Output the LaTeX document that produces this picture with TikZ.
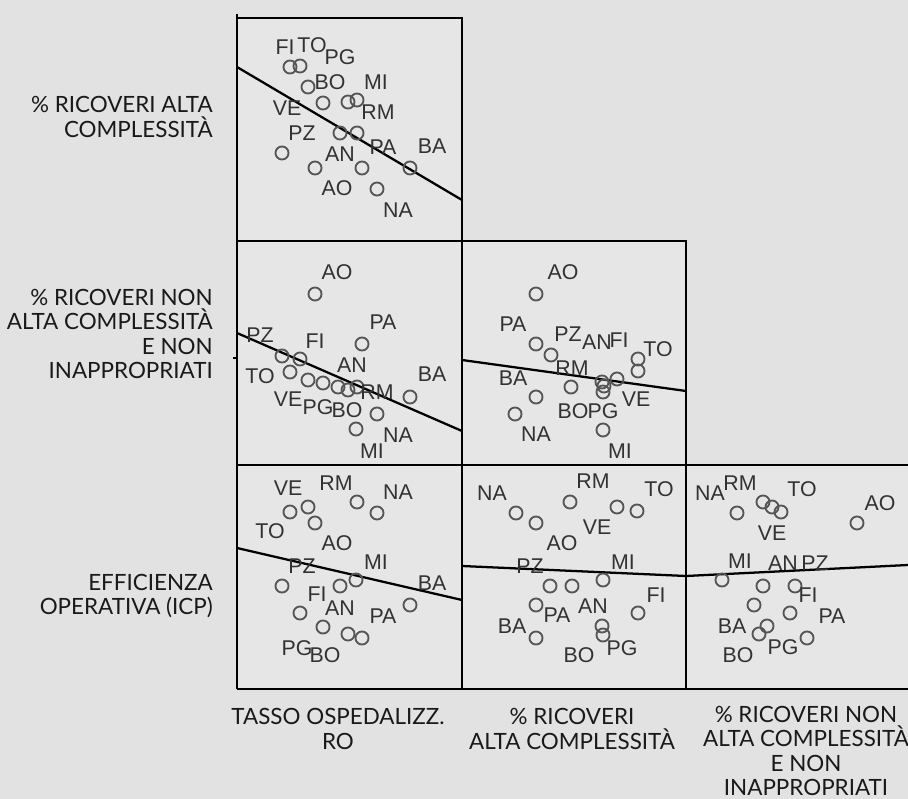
\documentclass[tikz,border=0pt]{standalone}
\usepackage{fontspec}
\setmainfont{Liberation Sans}
\newfontfamily\axisfont{Lato}
\definecolor{bgcol}{RGB}{226,226,226}
\definecolor{panelcol}{RGB}{230,230,230}
\definecolor{markcol}{RGB}{85,85,85}
\definecolor{labcol}{RGB}{50,50,50}
\definecolor{axcol}{RGB}{25,25,25}
\begin{document}
\begin{tikzpicture}[x=0.75pt,y=-0.75pt,
  framel/.style={line width=2.2pt,black},
  regl/.style={line width=1.7pt,black},
  mk/.style={circle,draw=markcol,line width=1.4pt,inner sep=0pt,minimum size=9.8pt},
  lab/.style={text=labcol,inner sep=0pt,font=\fontsize{16}{16}\selectfont},
  axlab/.style={text=axcol,inner sep=0pt,align=#1,font=\axisfont\fontsize{16.8}{18.4}\selectfont},
]
% canvas
\fill[bgcol] (0,0) rectangle (908,799);
\useasboundingbox (0,0) rectangle (908,799);
% panel backgrounds
\fill[panelcol] (237,18) rectangle (462,241);
\fill[panelcol] (237,241) rectangle (686,465);
\fill[panelcol] (237,465) rectangle (908,689);

% ---------- panel: row 1, col 1 ----------
\coordinate (r11s) at (237,67);
\coordinate (r11e) at (462,200);
\draw[regl] (r11s) -- (r11e);
\foreach \n/\x/\y in {a/290/67,b/300/66,c/308/87,d/323/103,e/348/102,f/357/100,g/340/133,h/357/133,i/282/153,j/315/168,k/362/168,l/410/168,m/377/189}
  \node[mk] (p11\n) at (\x,\y) {};
\foreach \t/\x/\y in {FI/285/47,TO/312/45,PG/340/57,BO/330/82,MI/376/82,VE/287/108,RM/378/112,PZ/302/133,AN/340/154,PA/383/147,BA/432/146,AO/337/188,NA/398/210}
  \node[lab] (l11\t) at (\x,\y) {\t};

% ---------- panel: row 2, col 1 ----------
\coordinate (r21s) at (237,333);
\coordinate (r21e) at (462,431);
\draw[regl] (r21s) -- (r21e);
\foreach \n/\x/\y in {a/315/294,b/362/344,c/282/356,d/300/359,e/290/372,f/308/380,g/323/383,h/338/387,i/348/390,j/357/387,k/410/397,l/377/414,m/356/429}
  \node[mk] (p21\n) at (\x,\y) {};
\foreach \t/\x/\y in {AO/337/272,PA/383/322,PZ/260/335,FI/315/341,AN/352/365,TO/260/376,BA/432/374,RM/377/392,VE/288/399,PG/318/407,BO/347/410,NA/398/435,MI/372/451}
  \node[lab] (l21\t) at (\x,\y) {\t};

% ---------- panel: row 2, col 2 ----------
\coordinate (r22s) at (462,360);
\coordinate (r22e) at (686,391);
\draw[regl] (r22s) -- (r22e);
\foreach \n/\x/\y in {a/536/294,b/536/344,c/551/355,d/638/359,e/638/371,f/617/379,g/602/382,h/571/387,i/603/392,j/536/397,k/515/414,l/603/430,m/604/386}
  \node[mk] (p22\n) at (\x,\y) {};
\foreach \t/\x/\y in {AO/563/272,PA/513/324,PZ/568/334,AN/597/342,FI/619/340,TO/658/349,RM/572/368,BA/513/378,VE/636/399,BO/573/411,PG/603/411,NA/536/434,MI/620/451}
  \node[lab] (l22\t) at (\x,\y) {\t};

% ---------- panel: row 3, col 1 ----------
\coordinate (r31s) at (237,548);
\coordinate (r31e) at (462,600);
\draw[regl] (r31s) -- (r31e);
\foreach \n/\x/\y in {a/290/512,b/308/507,c/315/523,d/357/502,e/377/513,f/282/586,g/340/586,h/356/580,i/300/613,j/323/627,k/348/634,l/362/638,m/410/605}
  \node[mk] (p31\n) at (\x,\y) {};
\foreach \t/\x/\y in {VE/288/488,RM/336/483,NA/398/492,TO/270/531,AO/337/543,PZ/302/566,MI/376/562,BA/432/583,FI/317/594,AN/340/608,PA/383/616,PG/297/648,BO/325/655}
  \node[lab] (l31\t) at (\x,\y) {\t};

% ---------- panel: row 3, col 2 ----------
\coordinate (r32s) at (462,566);
\coordinate (r32e) at (686,576);
\draw[regl] (r32s) -- (r32e);
\foreach \n/\x/\y in {a/516/513,b/536/523,c/570/502,d/617/507,e/637/511,f/550/586,g/572/586,h/603/580,i/536/605,j/638/613,k/536/638,l/602/626,m/603/635}
  \node[mk] (p32\n) at (\x,\y) {};
\foreach \t/\x/\y in {NA/492/493,RM/593/481,TO/659/489,VE/597/527,AO/562/543,PZ/530/566,MI/623/562,FI/656/595,AN/593/606,PA/557/615,BA/512/626,PG/622/648,BO/579/655}
  \node[lab] (l32\t) at (\x,\y) {\t};

% ---------- panel: row 3, col 3 ----------
\coordinate (r33s) at (686,576);
\coordinate (r33e) at (908,565);
\draw[regl] (r33s) -- (r33e);
\foreach \n/\x/\y in {a/737/513,b/763/502,c/772/507,d/781/512,e/857/523,f/722/580,g/763/586,h/795/586,i/754/605,j/790/613,k/767/626,l/759/634,m/807/638}
  \node[mk] (p33\n) at (\x,\y) {};
\foreach \t/\x/\y in {NA/710/493,RM/740/483,TO/802/489,AO/880/503,VE/772/533,MI/740/561,AN/783/563,PZ/815/563,FI/808/595,PA/832/616,BA/732/626,PG/783/647,BO/738/655}
  \node[lab] (l33\t) at (\x,\y) {\t};

% ---------- frame ----------
\coordinate (c1t) at (237,14);
\coordinate (c1b) at (237,689);
\coordinate (c2t) at (462,18);
\coordinate (c2b) at (462,689);
\coordinate (c3t) at (686,241);
\coordinate (c3b) at (686,689);
\coordinate (h1a) at (237,18);
\coordinate (h1b) at (463,18);
\coordinate (h2a) at (237,241);
\coordinate (h2b) at (687,241);
\coordinate (h3a) at (237,465);
\coordinate (h3b) at (908,465);
\coordinate (h4a) at (237,689);
\coordinate (h4b) at (908,689);
\coordinate (tka) at (233,358);
\coordinate (tkb) at (237,358);
\draw[framel] (c1t) -- (c1b);
\draw[framel] (c2t) -- (c2b);
\draw[framel] (c3t) -- (c3b);
\draw[framel] (h1a) -- (h1b);
\draw[framel] (h2a) -- (h2b);
\draw[framel] (h3a) -- (h3b);
\draw[framel] (h4a) -- (h4b);
\draw[framel] (tka) -- (tkb);

% ---------- axis titles ----------
\node[axlab=right,anchor=east] (ylab1) at (213,117) {\% RICOVERI ALTA\\COMPLESSITÀ};
\node[axlab=right,anchor=east] (ylab2) at (213,334) {\% RICOVERI NON\\ALTA COMPLESSITÀ\\E NON\\INAPPROPRIATI};
\node[axlab=right,anchor=east] (ylab3) at (213,596) {EFFICIENZA\\OPERATIVA (ICP)};
\node[axlab=center] (xlab1) at (338,729) {TASSO OSPEDALIZZ.\\RO};
\node[axlab=center] (xlab2) at (572,729) {\% RICOVERI\\ALTA COMPLESSITÀ};
\node[axlab=center] (xlab3) at (806,751) {\% RICOVERI NON\\ALTA COMPLESSITÀ\\E NON\\INAPPROPRIATI};
\end{tikzpicture}
\end{document}
